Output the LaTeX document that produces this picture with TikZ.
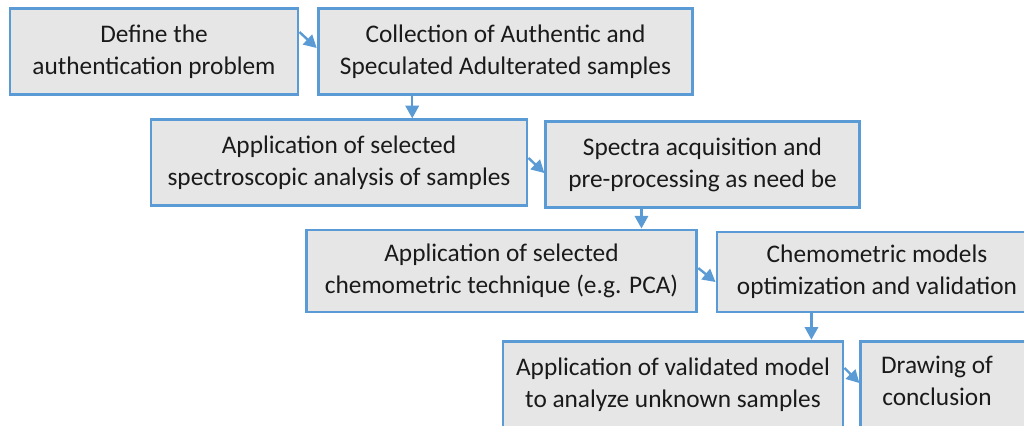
\documentclass[tikz,border=0pt]{standalone}
\usepackage{fontspec}
\setmainfont{Carlito}
\usepackage{xcolor}
\usetikzlibrary{arrows.meta,calc}
\definecolor{boxblue}{HTML}{5B9BD5}
\definecolor{boxgray}{HTML}{E7E6E6}
\definecolor{txt}{HTML}{1A1A1A}

\begin{document}
\begin{tikzpicture}[x=0.75pt,y=-0.75pt,
		stage/.style={draw=boxblue, line width=2.2pt, fill=boxgray, text=txt, align=center,
			inner sep=0pt, font=\fontsize{19pt}{24pt}\selectfont},
		arr/.style={draw=boxblue, line width=1.8pt, -{Triangle[length=9.5pt,width=10pt]}}]
		\useasboundingbox (0,0) rectangle (1024,425);
		\clip (0,0) rectangle (1024,425);
		% stages of the workflow
		\node[stage, minimum width=216pt, minimum height=65pt] (define) at (154,51.5) {Define the\\authentication problem};
		\node[stage, minimum width=281pt, minimum height=65pt] (collect) at (505.5,51.5) {Collection of Authentic and\\Speculated Adulterated samples};
		\node[stage, minimum width=282pt, minimum height=64pt] (spectro) at (339,162.5) {Application of selected\\spectroscopic analysis of samples};
		\node[stage, minimum width=235pt, minimum height=64pt] (acquire) at (702.5,164.5) {Spectra acquisition and\\pre-processing as need be};
		\node[stage, minimum width=293pt, minimum height=61.5pt] (chemo) at (501.5,271) {Application of selected\\chemometric technique (e.g. PCA)};
		\node[stage, minimum width=240pt, minimum height=60pt] (optim) at (877,272) {Chemometric models\\optimization and validation};
		\node[stage, minimum width=255pt, minimum height=65pt] (apply) at (673,384.5) {Application of validated model\\to analyze unknown samples};
		\node[stage, minimum width=127pt, minimum height=65pt] (concl) at (945.5,384.5) {};
		\node[stage, draw=none, fill=none] (concltext) at (937,381) {Drawing of\\conclusion};

		% connectors
		\draw[arr] ([yshift=14.6pt]define.east) -- ([yshift=2.6pt]collect.west);
		\coordinate (c1) at ($(collect.south west)!.253!(collect.south east)$);
		\draw[arr] (c1) -- (c1 |- spectro.north);
		\draw[arr] ([yshift=3.4pt]spectro.east) -- ([yshift=-6.4pt]acquire.west);
		\coordinate (c2) at ($(acquire.south west)!.307!(acquire.south east)$);
		\draw[arr] (c2) -- (c2 |- chemo.north);
		\draw[arr] ([yshift=2.2pt]chemo.east) -- ([yshift=-7.5pt]optim.west);
		\coordinate (c3) at ($(optim.south west)!.297!(optim.south east)$);
		\draw[arr] (c3) -- (c3 |- apply.north);
		\draw[arr] ([yshift=12.4pt]apply.east) -- ([yshift=1.1pt]concl.west);
\end{tikzpicture}
\end{document}
